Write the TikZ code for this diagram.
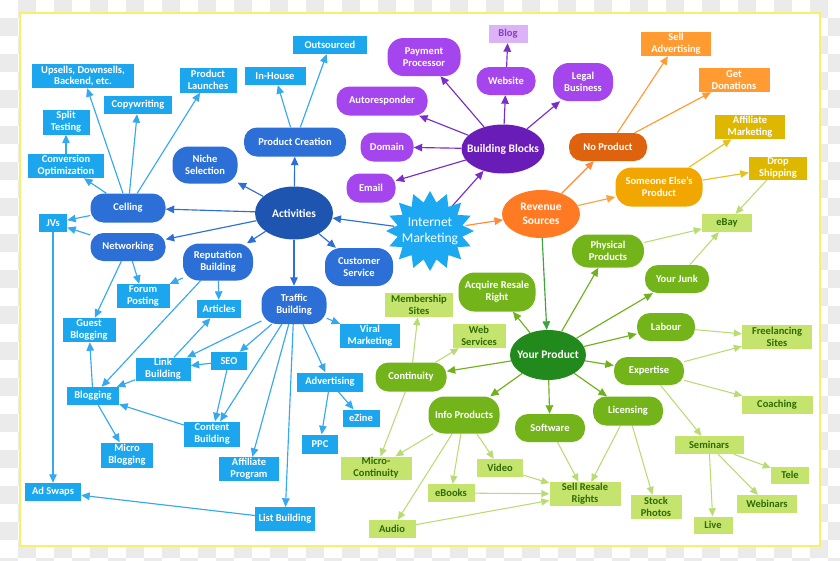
\documentclass[tikz,border=0pt]{standalone}
\usepackage{fontspec}
\setmainfont{Carlito}
\usetikzlibrary{arrows.meta,shapes.geometric}
\pgfdeclarelayer{bg}
\pgfdeclarelayer{edges}
\pgfsetlayers{bg,edges,main}
\definecolor{chk}{HTML}{EBEBEB}
\definecolor{frameY}{HTML}{F7F06A}
\definecolor{cyanB}{HTML}{1BA6EE}
\definecolor{cyanA}{HTML}{35A9F0}
\definecolor{blueN}{HTML}{2C6FD7}
\definecolor{actB}{HTML}{1E55B0}
\definecolor{imC}{HTML}{1DA9F2}
\definecolor{purN}{HTML}{A445EE}
\definecolor{bbP}{HTML}{6A1CB8}
\definecolor{purA}{HTML}{7B2DC9}
\definecolor{blogF}{HTML}{DDB3F7}
\definecolor{blogT}{HTML}{8A3CC0}
\definecolor{revO}{HTML}{FF7A22}
\definecolor{noP}{HTML}{DF630F}
\definecolor{seP}{HTML}{F2A602}
\definecolor{oLight}{HTML}{FF9B30}
\definecolor{yDark}{HTML}{DDB700}
\definecolor{ypG}{HTML}{228A1D}
\definecolor{grN}{HTML}{74B41B}
\definecolor{lgF}{HTML}{C4E46E}
\definecolor{lgT}{HTML}{2E6A05}
\definecolor{lgA}{HTML}{B9DC72}
\definecolor{grA}{HTML}{6FB21E}
\definecolor{revA}{HTML}{3DA33D}
\definecolor{orA}{HTML}{FF8A3A}
\definecolor{orA2}{HTML}{F5A640}
\definecolor{yA}{HTML}{E3C224}
\tikzset{
  base/.style={inner sep=1pt, align=center, font=\bfseries\fontsize{10.5}{11.8}\selectfont, text=white},
  sz/.style 2 args={minimum width=#1, minimum height=#2},
  box/.style={base, rectangle},
  cbox/.style={box, fill=cyanB},
  lbox/.style={box, fill=lgF, text=lgT},
  pill/.style={base, rectangle, rounded corners=13pt},
  pilltall/.style={base, rectangle, rounded corners=16pt},
  bpill/.style={pill, fill=blueN},
  bpill2/.style={pilltall, fill=blueN},
  ppill/.style={pill, fill=purN},
  ppill2/.style={pilltall, fill=purN},
  gpill/.style={pill, fill=grN},
  gpill2/.style={pilltall, fill=grN},
  ell/.style={base, ellipse, inner xsep=-15pt, inner ysep=0pt, font=\bfseries\fontsize{11.5}{13.5}\selectfont},
  arw/.style={draw=#1, line width=1.15pt, -{Triangle[length=8.5pt,width=7.5pt]}},
  larw/.style={draw=#1, line width=1.05pt, -{Triangle[length=8pt,width=7pt]}}
}
\begin{document}
\begin{tikzpicture}[x=1pt,y=-1pt]
\useasboundingbox (0,0) rectangle (840,560);
\begin{pgfonlayer}{bg}
  \fill[white] (0,0) rectangle (840,560);
  \foreach \i in {0,...,46}{\foreach \j in {0,...,31}{%
    \pgfmathtruncatemacro{\pq}{mod(\i+\j,2)}%
    \ifnum\pq=1 \fill[chk] (\i*18,\j*18) rectangle ++(18,18);\fi}}
  \fill[white] (20,13) rectangle (820,546);
  \draw[frameY, line width=1.8pt] (20,13) rectangle (820,546);
\end{pgfonlayer}

% ---- Internet Marketing star ----
\fill[imC, shift={(430,231)}] (90:44 and 40)
  \foreach \k in {0,...,15}{ -- ({90+\k*22.5+11.25}:33 and 29) -- ({90+(\k+1)*22.5}:44 and 40)} -- cycle;
\node[ellipse, inner xsep=-15pt, inner ysep=0pt, sz={72}{62}, align=center, text=white,
      font=\fontsize{13.5}{16}\selectfont] (im) at (430,231) {Internet\\Marketing};

% ---- blue side ----
\node[cbox,sz={102}{24}] (ups) at (83,76) {Upsells, Downsells,\\Backend, etc.};
\node[cbox,sz={57}{25}] (pl) at (208,80) {Product\\Launches};
\node[cbox,sz={68}{18}] (cw) at (138,105) {Copywriting};
\node[cbox,sz={47}{25}] (st) at (66,122) {Split\\Testing};
\node[cbox,sz={76}{24}] (co) at (66,166) {Conversion\\Optimization};
\node[cbox,sz={61}{18}] (ih) at (275,76) {In-House};
\node[cbox,sz={74}{18}] (os) at (330,45) {Outsourced};
\node[bpill2,sz={65}{37}] (ns) at (205,165) {Niche\\Selection};
\node[bpill,sz={102}{29}] (pc) at (295,142) {Product Creation};
\node[bpill,sz={75}{29}] (cel) at (128,208) {Celling};
\node[bpill,sz={75}{28}] (net) at (128,247) {Networking};
\node[cbox,sz={28}{18}] (jv) at (53,223) {JVs};
\node[bpill2,sz={70}{37}] (rb) at (218,262) {Reputation\\Building};
\node[cbox,sz={53}{24}] (fp) at (143,296) {Forum\\Posting};
\node[cbox,sz={44}{18}] (art) at (219,309) {Articles};
\node[cbox,sz={53}{24}] (gb) at (89,330) {Guest\\Blogging};
\node[cbox,sz={55}{23}] (lb) at (163,369) {Link\\Building};
\node[cbox,sz={36}{18}] (seo) at (229,361) {SEO};
\node[cbox,sz={52}{18}] (blog) at (93,396) {Blogging};
\node[cbox,sz={56}{25}] (cb) at (212,434) {Content\\Building};
\node[cbox,sz={52}{25}] (mb) at (127,455) {Micro\\Blogging};
\node[cbox,sz={60}{24}] (ap) at (249,469) {Affiliate\\Program};
\node[cbox,sz={56}{18}] (as) at (53,492) {Ad Swaps};
\node[cbox,sz={60}{24}] (lsb) at (285,519) {List Building};
\node[ell,fill=actB,sz={78}{53}] (act) at (294,213) {Activities};
\node[bpill2,sz={68}{38}] (cs) at (359,267) {Customer\\Service};
\node[bpill2,sz={65}{38}] (tb) at (294,305) {Traffic\\Building};
\node[cbox,sz={60}{24}] (vm) at (370,336) {Viral\\Marketing};
\node[cbox,sz={66}{19}] (adv) at (330,382) {Advertising};
\node[cbox,sz={37}{17}] (ez) at (361,418) {eZine};
\node[cbox,sz={36}{19}] (ppc) at (320,444) {PPC};

% ---- purple ----
\node[ppill2,sz={73}{38}] (pp) at (424,57) {Payment\\Processor};
\node[box,fill=blogF,text=blogT,sz={39}{18}] (blg) at (508,34) {Blog};
\node[ppill,sz={59}{28}] (web) at (506,81) {Website};
\node[ppill,sz={91}{29}] (ar) at (382,101) {Autoresponder};
\node[ppill,sz={53}{29}] (dom) at (387,147) {Domain};
\node[ell,fill=bbP,sz={83}{49}] (bb) at (503,149) {Building Blocks};
\node[ppill,sz={49}{29}] (em) at (371,188) {Email};
\node[ppill2,sz={60}{38}] (lgl) at (583,82) {Legal\\Business};

% ---- orange ----
\node[box,fill=oLight,sz={70}{24}] (sa) at (676,44) {Sell\\Advertising};
\node[box,fill=oLight,sz={71}{24}] (gd) at (734,80) {Get\\Donations};
\node[box,fill=yDark,sz={70}{24}] (am) at (750,127) {Affiliate\\Marketing};
\node[box,fill=yDark,sz={58}{23}] (ds) at (778,168) {Drop\\Shipping};
\node[pill,fill=noP,sz={78}{28}] (np) at (608,147) {No Product};
\node[pilltall,fill=seP,sz={87}{39}] (se) at (659,187) {Someone Else's\\Product};
\node[ell,fill=revO,sz={78}{48}] (rs) at (541,214) {Revenue\\Sources};

% ---- green ----
\node[lbox,sz={50}{18}] (eb) at (727,223) {eBay};
\node[gpill2,sz={72}{33}] (php) at (608,251) {Physical\\Products};
\node[gpill,sz={64}{28}] (yj) at (677,279) {Your Junk};
\node[gpill,sz={58}{28}] (lab) at (666,327) {Labour};
\node[lbox,sz={70}{24}] (fs) at (777,337) {Freelancing\\Sites};
\node[gpill,sz={70}{28}] (exp) at (649,371) {Expertise};
\node[lbox,sz={71}{18}] (coa) at (777,405) {Coaching};
\node[gpill,sz={70}{29}] (lic) at (628,411) {Licensing};
\node[gpill,sz={70}{28}] (sw) at (550,428) {Software};
\node[lbox,sz={69}{18}] (sem) at (709,445) {Seminars};
\node[lbox,sz={38}{17}] (tel) at (790,475) {Tele};
\node[lbox,sz={60}{18}] (wbn) at (767,504) {Webinars};
\node[lbox,sz={39}{17}] (live) at (713,525) {Live};
\node[lbox,sz={51}{24}] (sp) at (656,507) {Stock\\Photos};
\node[lbox,sz={71}{24}] (srr) at (585,494) {Sell Resale\\Rights};
\node[lbox,sz={46}{18}] (vid) at (500,468) {Video};
\node[lbox,sz={47}{18}] (ebk) at (451,493) {eBooks};
\node[lbox,sz={47}{18}] (aud) at (392,529) {Audio};
\node[lbox,sz={71}{23}] (mc) at (376,468) {Micro-\\Continuity};
\node[gpill2,sz={71}{37}] (ip) at (464,415) {Info Products};
\node[gpill,sz={71}{29}] (cont) at (411,377) {Continuity};
\node[lbox,sz={68}{24}] (ms) at (419,305) {Membership\\Sites};
\node[lbox,sz={53}{24}] (ws) at (479,336) {Web\\Services};
\node[gpill2,sz={77}{39}] (acq) at (497,292) {Acquire Resale\\Right};
\node[ell,fill=ypG,sz={76}{50}] (yp) at (548,355) {Your Product};

% ---- connectors ----
\begin{pgfonlayer}{edges}
  \draw[arw=blueN] (im) -- (act);
  \draw[arw=purA] (im) -- (bb);
  \draw[arw=orA] (im) -- (rs);
  \foreach \a/\b in {act/cel, act/net, act/rb, act/tb, act/cs, act/ns, act/pc}
    \draw[arw=blueN] (\a) -- (\b);
  \foreach \a/\b in {pc/ih, pc/os, cel/ups, cel/cw, cel/pl, cel/co, cel/jv, co/st,
      net/jv, net/fp, net/gb, jv/as, rb/fp, rb/art, rb/blog,
      tb/lb, tb/seo, tb/cb, tb/ap, tb/lsb, tb/adv, tb/vm,
      lb/art, lb/blog, seo/lb, seo/cb, cb/blog, blog/mb, blog/gb, lsb/as,
      adv/ez, adv/ppc}
    \draw[arw=cyanA] (\a) -- (\b);
  \foreach \a/\b in {bb/pp, bb/ar, bb/dom, bb/em, bb/web, bb/lgl, web/blg}
    \draw[arw=purA] (\a) -- (\b);
  \draw[arw=orA] (rs) -- (np);
  \draw[arw=orA2] (rs) -- (se);
  \draw[arw=revA] (rs) -- (yp);
  \draw[arw=oLight] (np) -- (sa);
  \draw[arw=oLight] (np) -- (gd);
  \draw[arw=yA] (se) -- (am);
  \draw[arw=yA] (se) -- (ds);
  \foreach \a/\b in {yp/acq, yp/php, yp/yj, yp/lab, yp/exp, yp/lic, yp/sw, yp/ip, yp/cont}
    \draw[arw=grA] (\a) -- (\b);
  \foreach \a/\b in {ds/eb, php/eb, yj/eb, lab/fs, exp/fs, exp/coa, exp/sem,
      sem/tel, sem/wbn, sem/live, lic/srr, lic/sp, sw/srr,
      ip/mc, ip/vid, ip/ebk, ip/aud, vid/srr, ebk/srr, aud/srr,
      cont/ms, cont/ws, cont/mc}
    \draw[larw=lgA] (\a) -- (\b);
\end{pgfonlayer}
\end{tikzpicture}
\end{document}
